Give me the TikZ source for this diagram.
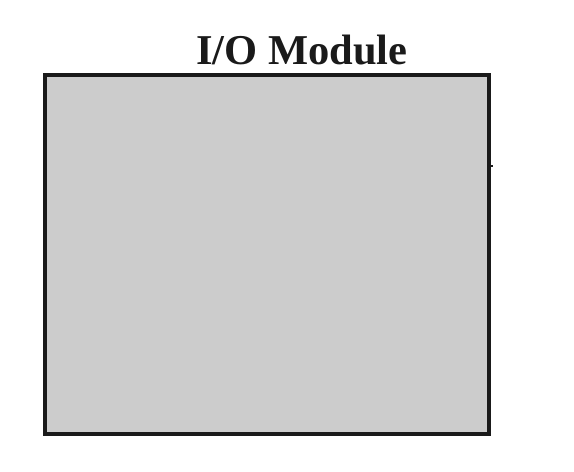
\documentclass[tikz,border=0pt]{standalone}
\usepackage{fontspec}
\setmainfont{Liberation Serif}
\definecolor{boxfill}{HTML}{CCCCCC}
\definecolor{boxline}{HTML}{1A1A1A}
\tikzset{
  modbox/.style={draw=boxline, fill=boxfill, line width=4pt, outer sep=0pt, inner sep=0pt},
  titletext/.style={font=\bfseries\fontsize{42.5}{48}\selectfont, text=boxline, inner sep=0pt}
}
\begin{document}
\begin{tikzpicture}[x=1pt,y=-1pt]
\useasboundingbox (0,0) rectangle (574,472);
\node[modbox, minimum width=444pt, minimum height=359pt, anchor=north west] (module) at (45,75) {};
\node[titletext, anchor=base] (title) at (302,64) {I/O Module};
\coordinate (tick) at (493,166);
\draw[boxline, line width=1.8pt] (module.east |- tick) -- (tick);
\end{tikzpicture}
\end{document}
